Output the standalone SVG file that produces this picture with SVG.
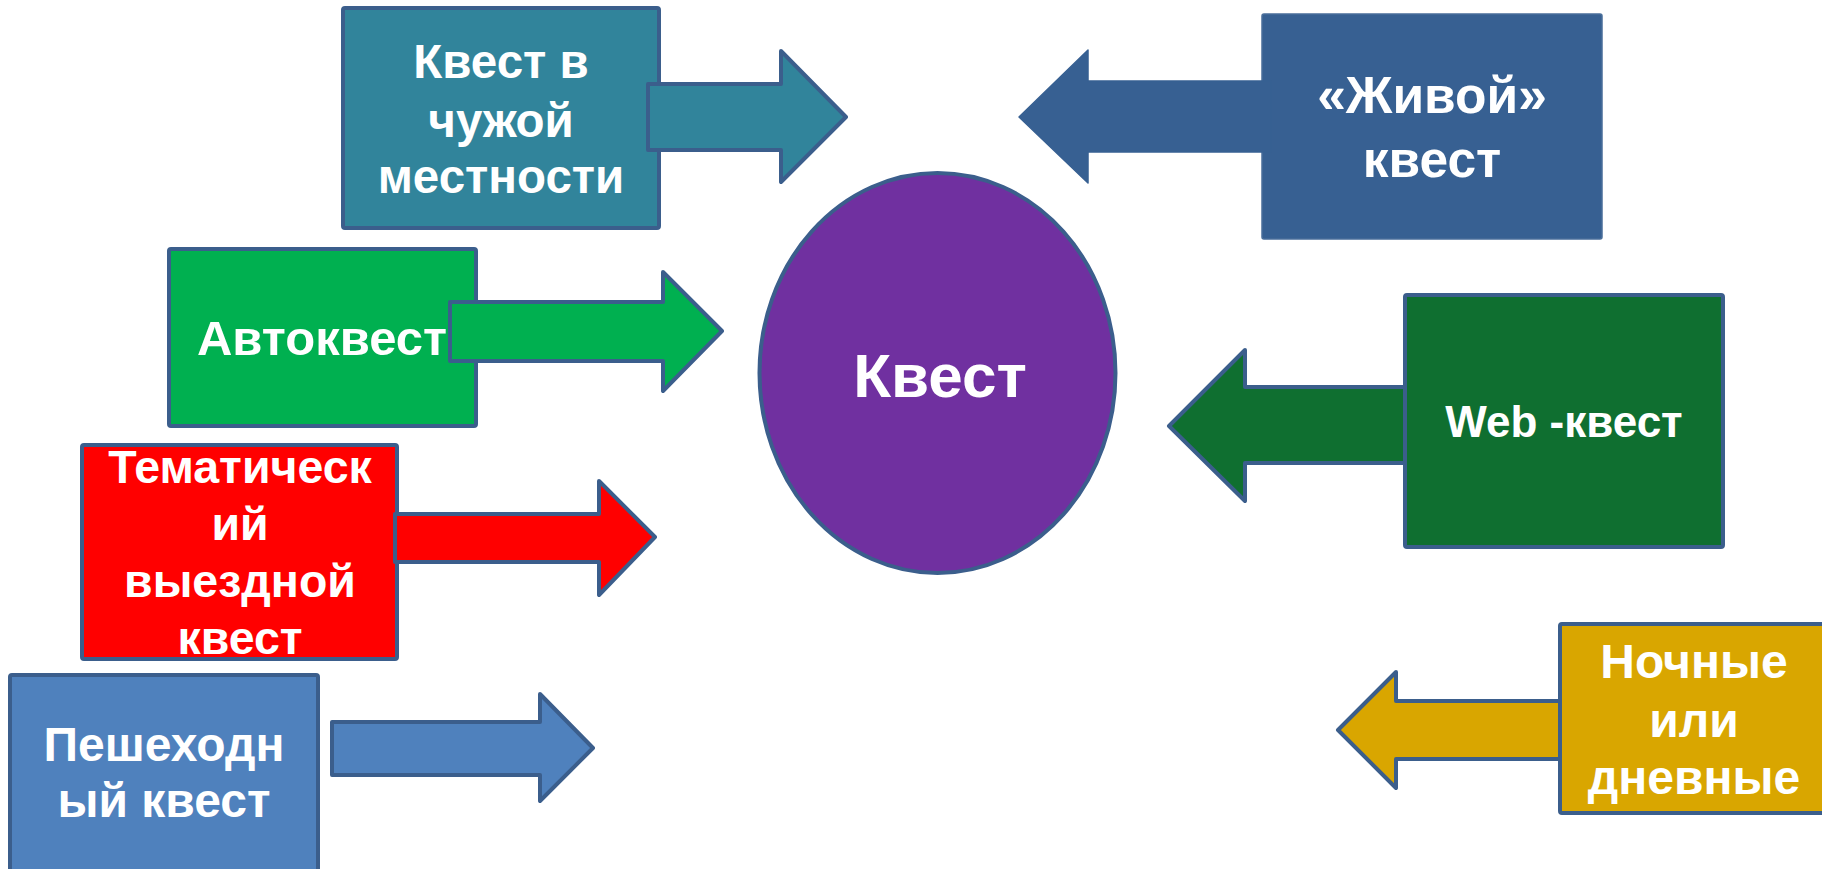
<svg xmlns="http://www.w3.org/2000/svg" width="1822" height="869" viewBox="0 0 1822 869">
<style>
.box{stroke:#3B5E8C;stroke-width:4;stroke-linejoin:round}
.arr{stroke:#3B5E8C;stroke-width:4;stroke-linejoin:round}
.t{font-family:"Liberation Sans",Arial,sans-serif;font-weight:bold;fill:#FFFFFF;text-anchor:middle}
</style>
<rect width="1822" height="869" fill="#FFFFFF"/>
<g id="center">
<ellipse cx="937.5" cy="373" rx="178" ry="200" fill="#7030A0" stroke="#3B5E8C" stroke-width="4"/>
<text class="t" x="940" y="397" font-size="62">Квест</text>
</g>
<g id="n1">
<rect class="box" x="343" y="8" width="316" height="220" rx="2" fill="#31849B"/>
<text class="t" x="501" y="78" font-size="47.5">Квест в</text>
<text class="t" x="501" y="137" font-size="47.5">чужой</text>
<text class="t" x="501" y="193" font-size="47.5">местности</text>
</g>
<g id="n2">
<rect x="1262" y="14" width="340" height="225" rx="2" fill="#376092" stroke="#4A6E9A" stroke-width="1.5"/>
<text class="t" x="1432" y="113" font-size="51.5">«Живой»</text>
<text class="t" x="1432" y="177" font-size="51.5">квест</text>
</g>
<g id="n3">
<rect class="box" x="169" y="249" width="307" height="177" rx="2" fill="#00B050"/>
<text class="t" x="322" y="355" font-size="49">Автоквест</text>
</g>
<g id="n4">
<rect class="box" x="1405" y="295" width="318" height="252" rx="2" fill="#0F6F30"/>
<text class="t" x="1564" y="437" font-size="44">Web -квест</text>
</g>
<g id="n5">
<rect class="box" x="82" y="445" width="315" height="214" rx="2" fill="#FF0000"/>
<text class="t" x="240" y="483" font-size="46.5">Тематическ</text>
<text class="t" x="240" y="540" font-size="46.5">ий</text>
<text class="t" x="240" y="597" font-size="46.5">выездной</text>
<text class="t" x="240" y="654" font-size="46.5">квест</text>
</g>
<g id="n6">
<rect class="box" x="10" y="675" width="308" height="210" rx="2" fill="#4F81BD"/>
<text class="t" x="164" y="761" font-size="48">Пешеходн</text>
<text class="t" x="164" y="817" font-size="48">ый квест</text>
</g>
<g id="connectors">
<polygon class="arr" fill="#31849B" points="648,84 781,84 781,51 846,117 781,182 781,150 648,150"/>
<polygon fill="#376092" stroke="#376092" stroke-width="1.5" stroke-linejoin="round" points="1271,81 1088,81 1088,50 1019,117 1088,183 1088,152 1271,152"/>
<polygon class="arr" fill="#00B050" points="450,302 663,302 663,272 722,331 663,391 663,361 450,361"/>
<polygon class="arr" fill="#0F6F30" points="1405,387 1245,387 1245,350 1169,426 1245,501 1245,463 1405,463"/>
<polygon class="arr" fill="#FF0000" points="395,514 599,514 599,481 655,537 599,595 599,562 395,562"/>
<polygon class="arr" fill="#4F81BD" points="332,722 540,722 540,694 593,748 540,801 540,775 332,775"/>
<polygon class="arr" fill="#D9A600" points="1560,701 1396,701 1396,672 1338,730 1396,788 1396,759 1560,759"/>
</g>
<g id="n7">
<rect class="box" x="1560" y="624" width="275" height="189" rx="2" fill="#D9A600"/>
<text class="t" x="1694" y="678" font-size="48">Ночные</text>
<text class="t" x="1694" y="737" font-size="48">или</text>
<text class="t" x="1694" y="794" font-size="48">дневные</text>
</g>
</svg>
